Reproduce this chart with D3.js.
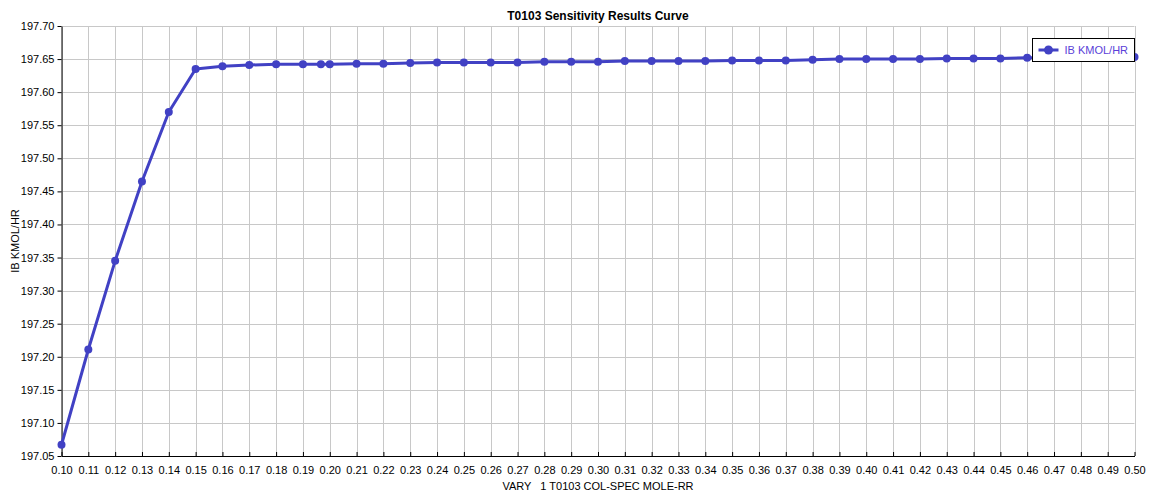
<!DOCTYPE html>
<html>
<head>
<meta charset="utf-8">
<script src="https://cdn.jsdelivr.net/npm/d3@7"></script>
<style>
  html, body { margin: 0; padding: 0; background: #fff; }
  svg { display: block; font-family: "Liberation Sans", Arial, sans-serif; }
</style>
</head>
<body>
<svg id="chart" width="1151" height="494"></svg>
<script>
const xValues = [0.10, 0.11, 0.12, 0.13, 0.14, 0.15, 0.16, 0.17, 0.18, 0.19, 0.1967, 0.20,
  0.21, 0.22, 0.23, 0.24, 0.25, 0.26, 0.27, 0.28, 0.29, 0.30, 0.31, 0.32, 0.33, 0.34,
  0.35, 0.36, 0.37, 0.38, 0.39, 0.40, 0.41, 0.42, 0.43, 0.44, 0.45, 0.46, 0.47, 0.48, 0.49, 0.50];
const ibValues = [197.067, 197.211, 197.345, 197.465, 197.570, 197.635, 197.639, 197.641, 197.642, 197.642, 197.642, 197.642,
  197.643, 197.643, 197.644, 197.645, 197.645, 197.645, 197.645, 197.646, 197.646, 197.646, 197.647, 197.647, 197.647, 197.647,
  197.648, 197.648, 197.648, 197.649, 197.650, 197.650, 197.650, 197.650, 197.651, 197.651, 197.651, 197.652, 197.652, 197.652, 197.653, 197.653];
const xTicks = d3.range(10, 51).map(d => d / 100);
const yTicks = d3.range(0, 14).map(i => 197.05 + i * 0.05);
const title = "T0103 Sensitivity Results Curve";
const xLabel = "VARY   1 T0103 COL-SPEC MOLE-RR";
const yLabel = "IB KMOL/HR";
const seriesName = "IB KMOL/HR";

(function () {
const data = xValues.map((x, i) => ({ x, y: ibValues[i] }));
const svg = d3.select("#chart");
const pL = 61.5, pR = 1134.5, pT = 26, pB = 456;
const x = d3.scaleLinear().domain([0.10, 0.50]).range([pL, pR]);
const y = d3.scaleLinear().domain([197.05, 197.70]).range([pB, pT]);
const lineColor = "#4141c4";
const font = "Liberation Sans, Arial, sans-serif";

// grid
svg.append("g").selectAll("line").data(xTicks).join("line")
  .attr("x1", d => Math.round(x(d)) + 0.5).attr("x2", d => Math.round(x(d)) + 0.5)
  .attr("y1", pT).attr("y2", pB)
  .attr("stroke", "#c8c8c8").attr("stroke-width", 1);
svg.append("g").selectAll("line").data(yTicks).join("line")
  .attr("y1", d => Math.round(y(d)) + 0.5).attr("y2", d => Math.round(y(d)) + 0.5)
  .attr("x1", pL).attr("x2", pR)
  .attr("stroke", "#c8c8c8").attr("stroke-width", 1);

// axes
const xAxis = d3.axisBottom(x).tickValues(xTicks).tickFormat(d3.format(".2f")).tickSizeInner(-4).tickSizeOuter(0).tickPadding(10);
const gx = svg.append("g").attr("transform", `translate(0,${pB})`).call(xAxis);
gx.select(".domain").attr("stroke", "#000");
gx.selectAll(".tick line").attr("stroke", "#000");
gx.selectAll(".tick text").attr("font-size", 11).attr("fill", "#000").attr("font-family", font);

const yAxis = d3.axisLeft(y).tickValues(yTicks).tickFormat(d3.format(".2f")).tickSizeInner(4).tickSizeOuter(0).tickPadding(3);
const gy = svg.append("g").attr("transform", `translate(${pL},0)`).call(yAxis);
gy.select(".domain").attr("stroke", "#000");
gy.selectAll(".tick line").attr("stroke", "#000");
gy.selectAll(".tick text").attr("font-size", 11).attr("fill", "#000").attr("font-family", font);

// line
svg.append("path").datum(data)
  .attr("d", d3.line().x(d => x(d.x)).y(d => y(d.y)))
  .attr("fill", "none").attr("stroke", lineColor).attr("stroke-width", 3)
  .attr("stroke-linejoin", "round");
svg.append("g").selectAll("circle").data(data).join("circle")
  .attr("cx", d => x(d.x)).attr("cy", d => y(d.y)).attr("r", 4)
  .attr("fill", lineColor);

// title & labels
svg.append("text").attr("x", (pL + pR) / 2).attr("y", 20)
  .attr("text-anchor", "middle").attr("font-size", 12).attr("font-weight", "bold")
  .attr("fill", "#000").text(title);
svg.append("text").attr("x", (pL + pR) / 2).attr("y", 490)
  .attr("text-anchor", "middle").attr("font-size", 11).attr("fill", "#000")
  .style("white-space", "pre").text(xLabel);
svg.append("text").attr("transform", `translate(19,${(pT + pB) / 2}) rotate(-90)`)
  .attr("text-anchor", "middle").attr("font-size", 11).attr("fill", "#000").text(yLabel);

// legend
const lg = svg.append("g").attr("transform", "translate(1032.5,38.5)");
lg.append("rect").attr("width", 102).attr("height", 23).attr("fill", "#fff").attr("stroke", "#000");
lg.append("line").attr("x1", 6).attr("x2", 26).attr("y1", 11.5).attr("y2", 11.5)
  .attr("stroke", lineColor).attr("stroke-width", 3);
lg.append("circle").attr("cx", 16).attr("cy", 11.5).attr("r", 4.5).attr("fill", lineColor);
lg.append("text").attr("x", 32).attr("y", 15.5).attr("font-size", 11)
  .attr("fill", "#5a3fd8").text(seriesName);
})();
</script>
</body>
</html>
